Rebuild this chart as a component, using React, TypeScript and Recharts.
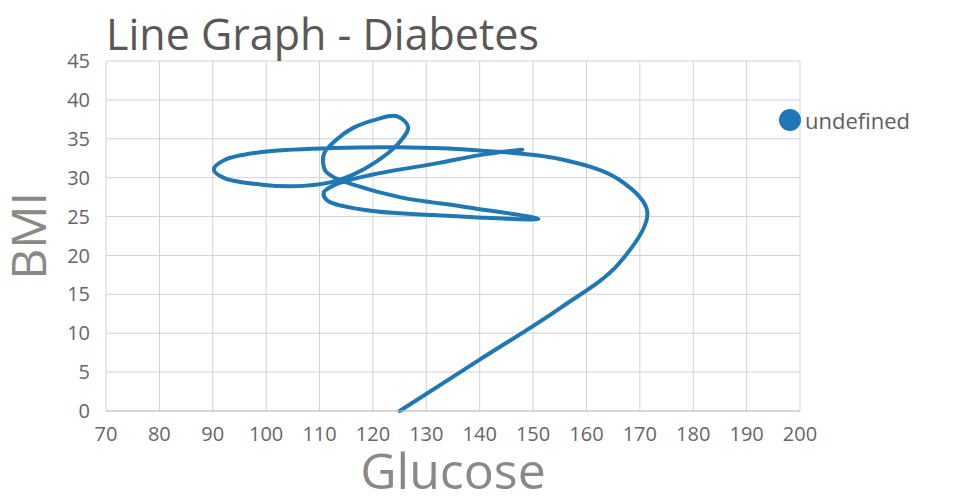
import { LineChart, Line, XAxis, YAxis, CartesianGrid, Legend } from "recharts";

// points along the drawn path, in order (glucose on x, BMI on y)
const glucose = [
  125, 140, 155, 166, 171.4, 166, 155, 140, 125, 112.5, 99.2, 92.3, 90.2, 92.3, 99.2, 105, 112, 116.3,
  120.5, 124.5, 126.6, 124.5, 120.7, 116.3, 113.2, 110.8, 111, 112.3, 116.3, 125, 137.6, 151, 131.3,
  118.9, 111.4, 110.8, 113.3, 120, 132.4, 140, 148,
];
const bmi = [
  0, 6.6, 13.2, 18.9, 25.6, 29.8, 32.4, 33.5, 33.9, 33.8, 33.3, 32.3, 31.05, 29.9, 29.1, 28.9, 29.4, 30.4,
  32.0, 34.2, 36.5, 37.9, 37.5, 36.4, 34.9, 33.0, 31.0, 30.2, 29.1, 27.5, 26.2, 24.7, 25.2,
  25.8, 27.1, 28.1, 29.2, 30.4, 31.9, 32.9, 33.6,
];

const xTicks = [70, 80, 90, 100, 110, 120, 130, 140, 150, 160, 170, 180, 190, 200];
const yTicks = [0, 5, 10, 15, 20, 25, 30, 35, 40, 45];

const seriesName = "undefined";
const LINE_COLOR = "#1f77b4";
const FONT = "'Open Sans', sans-serif";

const data = glucose.map((g, i) => ({ glucose: g, bmi: bmi[i] }));

// centripetal catmull-rom, so the path can loop back on itself
function catmullRom(context: any) {
  let pts: [number, number][] = [];
  const draw = () => {
    if (!pts.length) return;
    context.moveTo(pts[0][0], pts[0][1]);
    for (let i = 0; i < pts.length - 1; i++) {
      const p0 = pts[i - 1] || pts[i];
      const p1 = pts[i];
      const p2 = pts[i + 1];
      const p3 = pts[i + 2] || p2;
      const d1 = Math.pow(Math.hypot(p1[0] - p0[0], p1[1] - p0[1]), 0.5);
      const d2 = Math.pow(Math.hypot(p2[0] - p1[0], p2[1] - p1[1]), 0.5);
      const d3 = Math.pow(Math.hypot(p3[0] - p2[0], p3[1] - p2[1]), 0.5);
      let b1 = p1;
      let b2 = p2;
      if (d1 > 1e-6) {
        const a = 2 * d1 * d1 + 3 * d1 * d2 + d2 * d2;
        const n = 3 * d1 * (d1 + d2);
        b1 = [
          (p1[0] * a - p0[0] * d2 * d2 + p2[0] * d1 * d1) / n,
          (p1[1] * a - p0[1] * d2 * d2 + p2[1] * d1 * d1) / n,
        ];
      }
      if (d3 > 1e-6) {
        const b = 2 * d3 * d3 + 3 * d3 * d2 + d2 * d2;
        const m = 3 * d3 * (d3 + d2);
        b2 = [
          (p2[0] * b + p1[0] * d3 * d3 - p3[0] * d2 * d2) / m,
          (p2[1] * b + p1[1] * d3 * d3 - p3[1] * d2 * d2) / m,
        ];
      }
      context.bezierCurveTo(b1[0], b1[1], b2[0], b2[1], p2[0], p2[1]);
    }
  };
  return {
    areaStart() {},
    areaEnd() {},
    lineStart() {
      pts = [];
    },
    lineEnd() {
      draw();
      pts = [];
    },
    point(x: number, y: number) {
      pts.push([+x, +y]);
    },
  };
}

const LegendBox = () => (
  <div style={{ display: "flex", alignItems: "center", fontFamily: FONT }}>
    <svg width={24} height={24}>
      <circle cx={12} cy={12} r={11} fill={LINE_COLOR} />
    </svg>
    <span style={{ fontSize: 22, color: "#5e5e5e", marginLeft: 3 }}>{seriesName}</span>
  </div>
);

export default function App() {
  const tickStyle = { fontSize: 20, fill: "#666", fontFamily: FONT };
  return (
    <div style={{ position: "absolute", left: 0, top: 0, width: 960, height: 500, background: "#fff" }}>
      <LineChart width={960} height={500} data={data} margin={{ top: 61, right: 160, bottom: 59, left: 66 }}>
        <CartesianGrid stroke="#d2d2d2" strokeWidth={1} />
        <XAxis
          type="number"
          dataKey="glucose"
          domain={[70, 200]}
          ticks={xTicks}
          interval={0}
          height={30}
          tickLine={false}
          axisLine={{ stroke: "#c4c4c4" }}
          tick={tickStyle}
          tickMargin={10}
        />
        <YAxis
          type="number"
          dataKey="bmi"
          domain={[0, 45]}
          ticks={yTicks}
          interval={0}
          width={40}
          tickLine={false}
          axisLine={false}
          tick={tickStyle}
          tickMargin={10}
        />
        <Legend
          layout="vertical"
          align="center"
          verticalAlign="middle"
          content={<LegendBox />}
          wrapperStyle={{ left: 778, top: 105, width: 170 }}
        />
        <Line
          type={catmullRom as any}
          dataKey="bmi"
          name={seriesName}
          stroke={LINE_COLOR}
          strokeWidth={4}
          strokeLinecap="round"
          dot={false}
          activeDot={false}
          isAnimationActive={false}
        />
      </LineChart>
      <svg
        width={960}
        height={500}
        style={{ position: "absolute", left: 0, top: 0, pointerEvents: "none" }}
      >
        <text x={106} y={50} fontSize={43} fill="#5a5756" fontFamily={FONT}>
          Line Graph - Diabetes
        </text>
        <text x={453} y={489} fontSize={50} fill="#8c8884" fontFamily={FONT} textAnchor="middle">
          Glucose
        </text>
        <text
          transform="translate(46,236) rotate(-90)"
          fontSize={48}
          fill="#8c8884"
          fontFamily={FONT}
          textAnchor="middle"
        >
          BMI
        </text>
      </svg>
    </div>
  );
}
